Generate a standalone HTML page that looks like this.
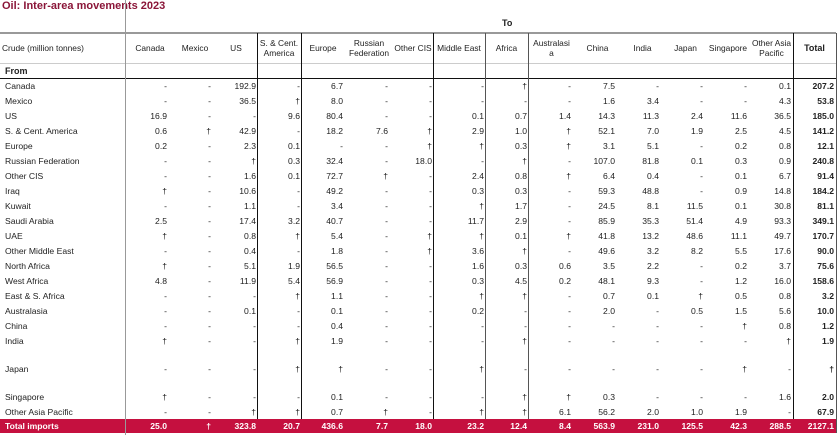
<!DOCTYPE html>
<html><head><meta charset="utf-8">
<style>
body{margin:0;background:#fff;width:840px;height:435px;overflow:hidden;position:relative;font-family:"Liberation Sans",Arial,sans-serif;color:#222}
.t{position:absolute;left:2px;top:0px;font-size:11px;font-weight:bold;color:#8a1538}
.to{position:absolute;left:502px;top:18px;font-size:9px;font-weight:bold}
table{position:absolute;left:0;top:33px;border-collapse:collapse;table-layout:fixed;width:836px;font-size:8.6px}
td{padding:0;white-space:nowrap;overflow:visible;text-align:right}
tr.h td{height:30px;text-align:center;line-height:10px;font-size:8.4px}
tr.h td:first-child{text-align:left;padding-left:2px}
tr.f td{height:15px;font-weight:bold;font-size:9px;text-align:left}
tr.d td{height:15px}
tr.d td:first-child,tr.tot td:first-child{text-align:left;padding-left:5px}
tr.j td{height:41px}
tr.tot td{height:14px;background:#c5103f;color:#fff;font-weight:bold}
tr.d td:nth-child(2),tr.tot td:nth-child(2){padding-right:8px}
tr.d td:nth-child(3),tr.tot td:nth-child(3){padding-right:4px}
tr.d td:nth-child(4),tr.tot td:nth-child(4){padding-right:1px}
tr.d td:nth-child(5),tr.tot td:nth-child(5){padding-right:1px}
tr.d td:nth-child(6),tr.tot td:nth-child(6){padding-right:2px}
tr.d td:nth-child(7),tr.tot td:nth-child(7){padding-right:5px}
tr.d td:nth-child(8),tr.tot td:nth-child(8){padding-right:1px}
tr.d td:nth-child(9),tr.tot td:nth-child(9){padding-right:1px}
tr.d td:nth-child(10),tr.tot td:nth-child(10){padding-right:1px}
tr.d td:nth-child(11),tr.tot td:nth-child(11){padding-right:4px}
tr.d td:nth-child(12),tr.tot td:nth-child(12){padding-right:5px}
tr.d td:nth-child(13),tr.tot td:nth-child(13){padding-right:6px}
tr.d td:nth-child(14),tr.tot td:nth-child(14){padding-right:3px}
tr.d td:nth-child(15),tr.tot td:nth-child(15){padding-right:3px}
tr.d td:nth-child(16),tr.tot td:nth-child(16){padding-right:2px}
tr.d td:nth-child(17),tr.tot td:nth-child(17){padding-right:2px;font-weight:bold}
.v{position:absolute;width:1px}
.hl{position:absolute;height:1px}
</style></head><body>
<div class="t">Oil: Inter-area movements 2023</div>
<div class="to">To</div>
<table>
<colgroup><col style="width:125px"><col style="width:50px"><col style="width:40px"><col style="width:42px"><col style="width:44px"><col style="width:44px"><col style="width:48px"><col style="width:40px"><col style="width:52px"><col style="width:43px"><col style="width:47px"><col style="width:45px"><col style="width:45px"><col style="width:41px"><col style="width:44px"><col style="width:43px"><col style="width:43px"></colgroup>
<tr class="h"><td>Crude (million tonnes)</td><td>Canada</td><td>Mexico</td><td>US</td><td>S. &amp; Cent.<br>America</td><td>Europe</td><td>Russian<br>Federation</td><td>Other CIS</td><td>Middle East</td><td>Africa</td><td>Australasi<br>a</td><td>China</td><td>India</td><td>Japan</td><td>Singapore</td><td>Other Asia<br>Pacific</td><td style="font-weight:bold;font-size:9px">Total</td></tr>
<tr class="f"><td style="padding-left:5px">From</td><td></td><td></td><td></td><td></td><td></td><td></td><td></td><td></td><td></td><td></td><td></td><td></td><td></td><td></td><td></td><td></td></tr>
<tr class="d"><td>Canada</td><td>-</td><td>-</td><td>192.9</td><td>-</td><td>6.7</td><td>-</td><td>-</td><td>-</td><td>†</td><td>-</td><td>7.5</td><td>-</td><td>-</td><td>-</td><td>0.1</td><td>207.2</td></tr>
<tr class="d"><td>Mexico</td><td>-</td><td>-</td><td>36.5</td><td>†</td><td>8.0</td><td>-</td><td>-</td><td>-</td><td>-</td><td>-</td><td>1.6</td><td>3.4</td><td>-</td><td>-</td><td>4.3</td><td>53.8</td></tr>
<tr class="d"><td>US</td><td>16.9</td><td>-</td><td>-</td><td>9.6</td><td>80.4</td><td>-</td><td>-</td><td>0.1</td><td>0.7</td><td>1.4</td><td>14.3</td><td>11.3</td><td>2.4</td><td>11.6</td><td>36.5</td><td>185.0</td></tr>
<tr class="d"><td>S. &amp; Cent. America</td><td>0.6</td><td>†</td><td>42.9</td><td>-</td><td>18.2</td><td>7.6</td><td>†</td><td>2.9</td><td>1.0</td><td>†</td><td>52.1</td><td>7.0</td><td>1.9</td><td>2.5</td><td>4.5</td><td>141.2</td></tr>
<tr class="d"><td>Europe</td><td>0.2</td><td>-</td><td>2.3</td><td>0.1</td><td>-</td><td>-</td><td>†</td><td>†</td><td>0.3</td><td>†</td><td>3.1</td><td>5.1</td><td>-</td><td>0.2</td><td>0.8</td><td>12.1</td></tr>
<tr class="d"><td>Russian Federation</td><td>-</td><td>-</td><td>†</td><td>0.3</td><td>32.4</td><td>-</td><td>18.0</td><td>-</td><td>†</td><td>-</td><td>107.0</td><td>81.8</td><td>0.1</td><td>0.3</td><td>0.9</td><td>240.8</td></tr>
<tr class="d"><td>Other CIS</td><td>-</td><td>-</td><td>1.6</td><td>0.1</td><td>72.7</td><td>†</td><td>-</td><td>2.4</td><td>0.8</td><td>†</td><td>6.4</td><td>0.4</td><td>-</td><td>0.1</td><td>6.7</td><td>91.4</td></tr>
<tr class="d"><td>Iraq</td><td>†</td><td>-</td><td>10.6</td><td>-</td><td>49.2</td><td>-</td><td>-</td><td>0.3</td><td>0.3</td><td>-</td><td>59.3</td><td>48.8</td><td>-</td><td>0.9</td><td>14.8</td><td>184.2</td></tr>
<tr class="d"><td>Kuwait</td><td>-</td><td>-</td><td>1.1</td><td>-</td><td>3.4</td><td>-</td><td>-</td><td>†</td><td>1.7</td><td>-</td><td>24.5</td><td>8.1</td><td>11.5</td><td>0.1</td><td>30.8</td><td>81.1</td></tr>
<tr class="d"><td>Saudi Arabia</td><td>2.5</td><td>-</td><td>17.4</td><td>3.2</td><td>40.7</td><td>-</td><td>-</td><td>11.7</td><td>2.9</td><td>-</td><td>85.9</td><td>35.3</td><td>51.4</td><td>4.9</td><td>93.3</td><td>349.1</td></tr>
<tr class="d"><td>UAE</td><td>†</td><td>-</td><td>0.8</td><td>†</td><td>5.4</td><td>-</td><td>†</td><td>†</td><td>0.1</td><td>†</td><td>41.8</td><td>13.2</td><td>48.6</td><td>11.1</td><td>49.7</td><td>170.7</td></tr>
<tr class="d"><td>Other Middle East</td><td>-</td><td>-</td><td>0.4</td><td>-</td><td>1.8</td><td>-</td><td>†</td><td>3.6</td><td>†</td><td>-</td><td>49.6</td><td>3.2</td><td>8.2</td><td>5.5</td><td>17.6</td><td>90.0</td></tr>
<tr class="d"><td>North Africa</td><td>†</td><td>-</td><td>5.1</td><td>1.9</td><td>56.5</td><td>-</td><td>-</td><td>1.6</td><td>0.3</td><td>0.6</td><td>3.5</td><td>2.2</td><td>-</td><td>0.2</td><td>3.7</td><td>75.6</td></tr>
<tr class="d"><td>West Africa</td><td>4.8</td><td>-</td><td>11.9</td><td>5.4</td><td>56.9</td><td>-</td><td>-</td><td>0.3</td><td>4.5</td><td>0.2</td><td>48.1</td><td>9.3</td><td>-</td><td>1.2</td><td>16.0</td><td>158.6</td></tr>
<tr class="d"><td>East &amp; S. Africa</td><td>-</td><td>-</td><td>-</td><td>†</td><td>1.1</td><td>-</td><td>-</td><td>†</td><td>†</td><td>-</td><td>0.7</td><td>0.1</td><td>†</td><td>0.5</td><td>0.8</td><td>3.2</td></tr>
<tr class="d"><td>Australasia</td><td>-</td><td>-</td><td>0.1</td><td>-</td><td>0.1</td><td>-</td><td>-</td><td>0.2</td><td>-</td><td>-</td><td>2.0</td><td>-</td><td>0.5</td><td>1.5</td><td>5.6</td><td>10.0</td></tr>
<tr class="d"><td>China</td><td>-</td><td>-</td><td>-</td><td>-</td><td>0.4</td><td>-</td><td>-</td><td>-</td><td>-</td><td>-</td><td>-</td><td>-</td><td>-</td><td>†</td><td>0.8</td><td>1.2</td></tr>
<tr class="d"><td>India</td><td>†</td><td>-</td><td>-</td><td>†</td><td>1.9</td><td>-</td><td>-</td><td>-</td><td>†</td><td>-</td><td>-</td><td>-</td><td>-</td><td>-</td><td>†</td><td>1.9</td></tr>
<tr class="d j"><td>Japan</td><td>-</td><td>-</td><td>-</td><td>†</td><td>†</td><td>-</td><td>-</td><td>†</td><td>-</td><td>-</td><td>-</td><td>-</td><td>-</td><td>†</td><td>-</td><td>†</td></tr>
<tr class="d"><td>Singapore</td><td>†</td><td>-</td><td>-</td><td>-</td><td>0.1</td><td>-</td><td>-</td><td>-</td><td>†</td><td>†</td><td>0.3</td><td>-</td><td>-</td><td>-</td><td>1.6</td><td>2.0</td></tr>
<tr class="d"><td>Other Asia Pacific</td><td>-</td><td>-</td><td>†</td><td>†</td><td>0.7</td><td>†</td><td>-</td><td>†</td><td>†</td><td>6.1</td><td>56.2</td><td>2.0</td><td>1.0</td><td>1.9</td><td>-</td><td>67.9</td></tr>
<tr class="tot"><td>Total imports</td><td>25.0</td><td>†</td><td>323.8</td><td>20.7</td><td>436.6</td><td>7.7</td><td>18.0</td><td>23.2</td><td>12.4</td><td>8.4</td><td>563.9</td><td>231.0</td><td>125.5</td><td>42.3</td><td>288.5</td><td>2127.1</td></tr>
</table>
<div class="hl" style="left:0;top:32px;width:836px;height:2px;background:#999"></div>
<div class="hl" style="left:0;top:63px;width:836px;background:#ccc"></div>
<div class="hl" style="left:0;top:78px;width:836px;background:#111"></div>
<div class="v" style="left:125px;top:0;height:435px;background:#999"></div>
<div class="v" style="left:257px;top:33px;height:386px;background:#111"></div>
<div class="v" style="left:301px;top:33px;height:386px;background:#111"></div>
<div class="v" style="left:433px;top:33px;height:386px;background:#111"></div>
<div class="v" style="left:485px;top:33px;height:386px;background:#555"></div>
<div class="v" style="left:528px;top:33px;height:386px;background:#555"></div>
<div class="v" style="left:793px;top:33px;height:386px;background:#111"></div>
<div class="v" style="left:836px;top:33px;height:400px;background:#555"></div>
</body></html>
